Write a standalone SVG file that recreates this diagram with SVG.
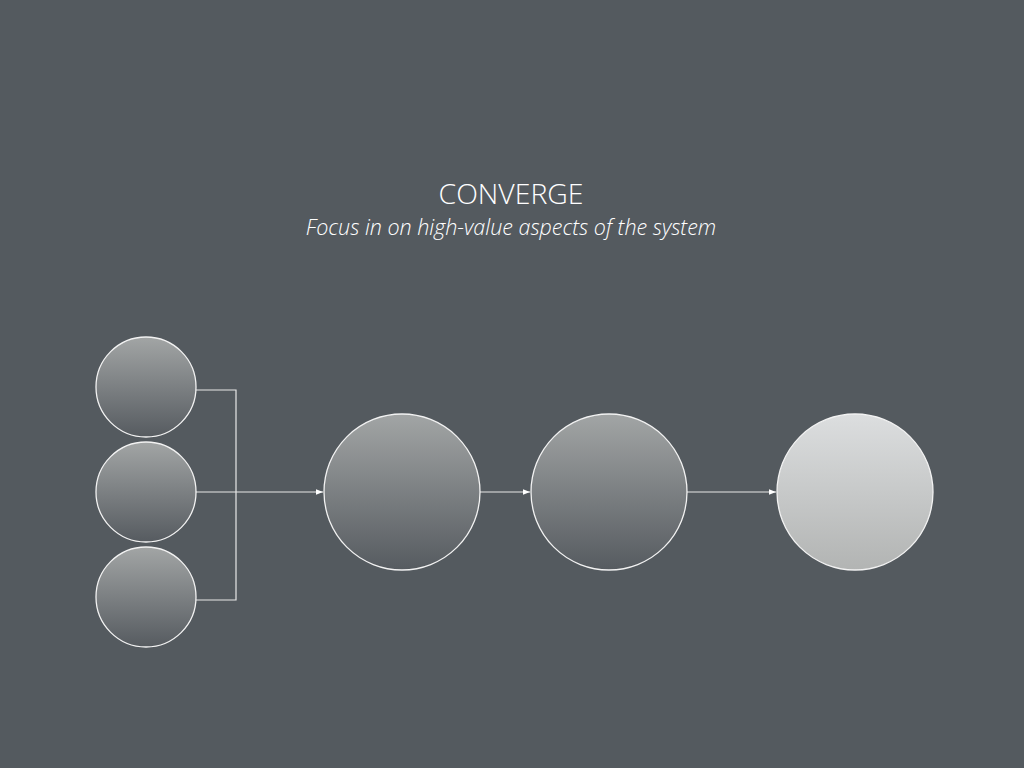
<svg xmlns="http://www.w3.org/2000/svg" width="1024" height="768" viewBox="0 0 1024 768">
  <defs>
    <linearGradient id="gDark" x1="0" y1="0" x2="0" y2="1">
      <stop offset="0" stop-color="#a2a5a5"/>
      <stop offset="1" stop-color="#565b60"/>
    </linearGradient>
    <linearGradient id="gLight" x1="0" y1="0" x2="0" y2="1">
      <stop offset="0" stop-color="#dcdedf"/>
      <stop offset="1" stop-color="#b2b4b3"/>
    </linearGradient>
    <marker id="arrow" viewBox="0 0 10 10" refX="10" refY="5" markerWidth="7" markerHeight="7" markerUnits="userSpaceOnUse" orient="auto">
      <path d="M0,1 L10,5 L0,9 Z" fill="#ffffff"/>
    </marker>
    <style>
      .node { stroke: #f2f2f2; stroke-width: 1.3; }
      .dark { fill: url(#gDark); }
      .light { fill: url(#gLight); }
      .conn { fill: none; stroke: #e8e8e8; stroke-width: 1.2; }
      .title { font-family: "Open Sans", "Liberation Sans", sans-serif; font-weight: 300; fill: #ffffff; text-anchor: middle; }
    </style>
  </defs>
  <rect width="1024" height="768" fill="#545a5f"/>
  <text class="title" x="511" y="204" font-size="28.4">CONVERGE</text>
  <text class="title" x="511" y="235" font-size="21.5" font-style="italic">Focus in on high-value aspects of the system</text>

  <g id="connectors">
    <path class="conn" d="M196,390 H236 V600 H196"/>
    <path class="conn" d="M196,492 H323" marker-end="url(#arrow)"/>
    <path class="conn" d="M480,492 H530" marker-end="url(#arrow)"/>
    <path class="conn" d="M687,492 H776" marker-end="url(#arrow)"/>
  </g>

  <g id="input1"><circle class="node dark" cx="146" cy="387" r="50"/></g>
  <g id="input2"><circle class="node dark" cx="146" cy="492" r="50"/></g>
  <g id="input3"><circle class="node dark" cx="146" cy="597" r="50"/></g>
  <g id="stage1"><circle class="node dark" cx="402" cy="492" r="78"/></g>
  <g id="stage2"><circle class="node dark" cx="609" cy="492" r="78"/></g>
  <g id="result"><circle class="node light" cx="855" cy="492" r="78"/></g>
</svg>
